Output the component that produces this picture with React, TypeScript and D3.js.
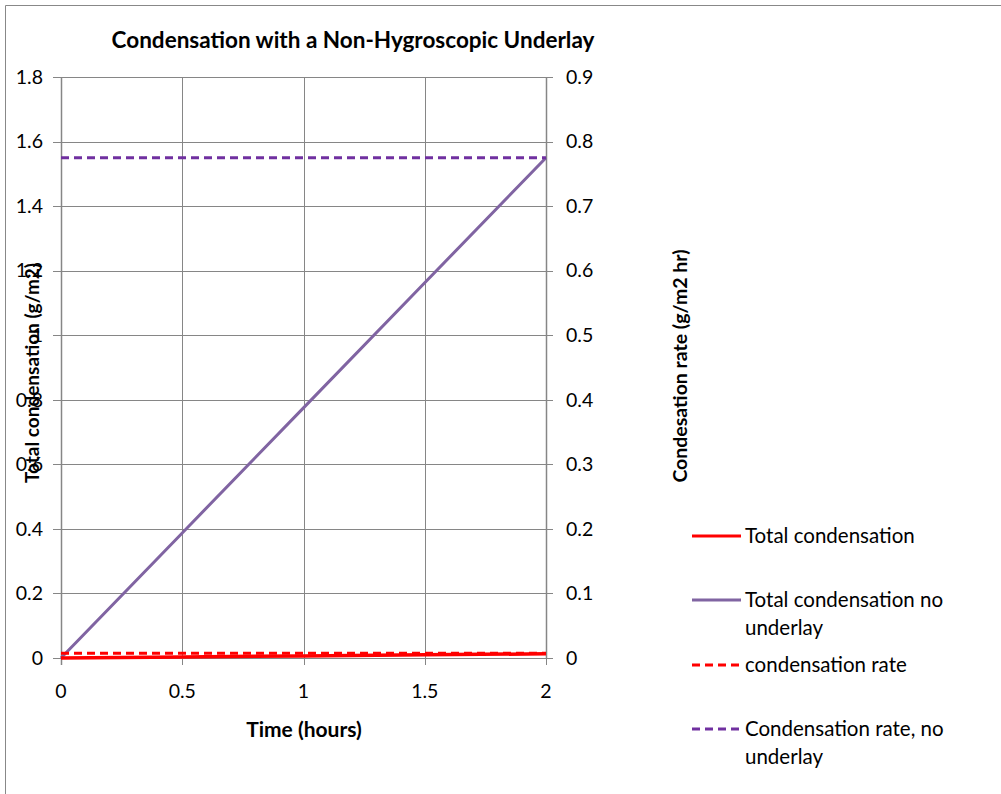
import React from "react";
import * as d3 from "d3";

const timeHours = [0, 0.5, 1, 1.5, 2];
const totalCondensation = [0, 0.0032, 0.0065, 0.0097, 0.013];
const totalCondensationNoUnderlay = [0, 0.3875, 0.775, 1.1625, 1.55];
const condensationRate = [0.0075, 0.0075, 0.0075, 0.0075, 0.0075];
const condensationRateNoUnderlay = [0.775, 0.775, 0.775, 0.775, 0.775];
const xTicks = [0, 0.5, 1, 1.5, 2];
const leftTicks = [0, 0.2, 0.4, 0.6, 0.8, 1, 1.2, 1.4, 1.6, 1.8];
const rightTicks = [0, 0.1, 0.2, 0.3, 0.4, 0.5, 0.6, 0.7, 0.8, 0.9];

const FONT = "Lato, 'Open Sans', sans-serif";

export default function App() {
  const W = 1001, H = 794;
  const x = d3.scaleLinear().domain([0, 2]).range([61, 546]);
  const yL = d3.scaleLinear().domain([0, 1.8]).range([658, 77]);
  const yR = d3.scaleLinear().domain([0, 0.9]).range([658, 77]);
  const grid = "#868686";

  const lineL = d3.line<number>().x((_, i) => x(timeHours[i])).y((d) => yL(d));
  const lineR = d3.line<number>().x((_, i) => x(timeHours[i])).y((d) => yR(d));

  const legend = [
    { label: ["Total condensation"], color: "#FF0000", dash: undefined, y: 536 },
    { label: ["Total condensation no", "underlay"], color: "#8064A2", dash: undefined, y: 600 },
    { label: ["condensation rate"], color: "#FF0000", dash: "8,5", y: 665 },
    { label: ["Condensation rate, no", "underlay"], color: "#7030A0", dash: "8,5", y: 729 },
  ];

  return (
    <svg width={W} height={H} style={{ position: "absolute", left: 0, top: 0, fontFamily: FONT }}>
      <rect x={0} y={0} width={W} height={H} fill="#fff" />
      <path d={`M5.5,${H} V5.5 H${W}`} fill="none" stroke="#888" strokeWidth={1} />
      {leftTicks.map((t) => (
        <line key={"h" + t} x1={53} x2={546} y1={Math.round(yL(t)) + 0.5} y2={Math.round(yL(t)) + 0.5} stroke={grid} strokeWidth={1} />
      ))}
      {xTicks.map((t) => (
        <line key={"v" + t} x1={Math.round(x(t)) + 0.5} x2={Math.round(x(t)) + 0.5} y1={77} y2={665} stroke={grid} strokeWidth={1} />
      ))}
      <line x1={546.5} x2={546.5} y1={77} y2={658} stroke={grid} strokeWidth={1.5} />
      <line x1={61.5} x2={61.5} y1={77} y2={665} stroke={grid} strokeWidth={1.5} />
      {rightTicks.map((t) => (
        <line key={"rt" + t} x1={546} x2={553} y1={Math.round(yR(t)) + 0.5} y2={Math.round(yR(t)) + 0.5} stroke={grid} strokeWidth={1} />
      ))}
      {leftTicks.map((t) => (
        <text key={"lt" + t} x={43} y={yL(t)} dy="0.35em" textAnchor="end" fontSize={19.5} fill="#000">{d3.format("~g")(t)}</text>
      ))}
      {rightTicks.map((t) => (
        <text key={"rl" + t} x={566} y={yR(t)} dy="0.35em" textAnchor="start" fontSize={19.5} fill="#000">{d3.format("~g")(t)}</text>
      ))}
      {xTicks.map((t) => (
        <text key={"xl" + t} x={x(t)} y={691} dy="0.35em" textAnchor="middle" fontSize={19.5} fill="#000">{d3.format("~g")(t)}</text>
      ))}
      <path d={lineL(totalCondensationNoUnderlay) || ""} fill="none" stroke="#8064A2" strokeWidth={3} />
      <path d={lineR(condensationRateNoUnderlay) || ""} fill="none" stroke="#7030A0" strokeWidth={3} strokeDasharray="8,5" />
      <path d={lineL(totalCondensation) || ""} fill="none" stroke="#FF0000" strokeWidth={3.5} />
      <path d={lineR(condensationRate) || ""} fill="none" stroke="#FF0000" strokeWidth={3} strokeDasharray="8,5" />
      <text x={353} y={48} textAnchor="middle" fontSize={22.5} fontWeight="bold" fill="#000">Condensation with a Non-Hygroscopic Underlay</text>
      <text x={304} y={737} textAnchor="middle" fontSize={21} fontWeight="bold" fill="#000">Time (hours)</text>
      <text transform="translate(39,373) rotate(-90)" textAnchor="middle" fontSize={19} fontWeight="bold" fill="#000">Total condensation (g/m2)</text>
      <text transform="translate(687,366) rotate(-90)" textAnchor="middle" fontSize={19.5} fontWeight="bold" fill="#000">Condesation rate (g/m2 hr)</text>
      {legend.map((l, i) => (
        <g key={"lg" + i}>
          <line x1={692} x2={741} y1={l.y} y2={l.y} stroke={l.color} strokeWidth={3} strokeDasharray={l.dash} />
          {l.label.map((s, j) => (
            <text key={j} x={745} y={l.y + j * 28} dy="0.35em" fontSize={20.5} fill="#000">{s}</text>
          ))}
        </g>
      ))}
    </svg>
  );
}
